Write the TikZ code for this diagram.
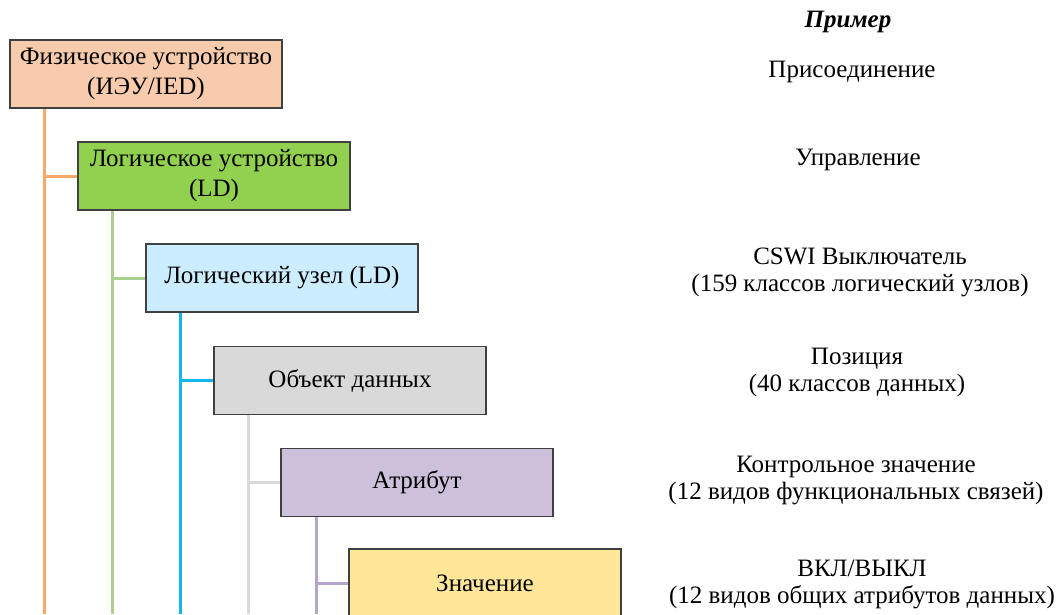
\documentclass[tikz,border=0pt]{standalone}
\usepackage{fontspec}
\setmainfont{Liberation Serif}
\usepackage{tikz}
\usetikzlibrary{positioning,calc}

\definecolor{iedfill}{HTML}{F8CBAD}
\definecolor{ldfill}{HTML}{92D050}
\definecolor{lnfill}{HTML}{CCECFF}
\definecolor{dofill}{HTML}{D9D9D9}
\definecolor{dafill}{HTML}{CCC0DA}
\definecolor{valfill}{HTML}{FFE699}
\definecolor{boxline}{HTML}{404040}
\definecolor{iedline}{HTML}{F9A86A}
\definecolor{ldline}{HTML}{A9D18E}
\definecolor{lnline}{HTML}{12B5F2}
\definecolor{doline}{HTML}{D9D9D9}
\definecolor{daline}{HTML}{B4A5CC}

\begin{document}
\begin{tikzpicture}[
    x=1pt,y=-1pt,
    font=\fontsize{25}{30}\selectfont,
    level/.style={
      draw=boxline,
      line width=1.8pt,
      minimum width=272pt,
      minimum height=68pt,
      inner sep=2pt,
      align=center
    },
    example/.style={
      align=center,
      font=\fontsize{25}{27}\selectfont
    },
    branch/.style={line width=3pt}
  ]
  \useasboundingbox (0,0) rectangle (1062,614);

  % ========== Tree lines ==========
  \coordinate (iedend) at (44,614);
  \coordinate (ldend) at (112,614);
  \coordinate (lnend) at (180,614);
  \coordinate (doend) at (248,614);
  \coordinate (daend) at (316,614);

  % ========== Hierarchy boxes ==========
  \node[level,fill=iedfill] (ied) at (146,74)
    {Физическое устройство\\(ИЭУ/IED)};
  \node[level,fill=ldfill] (ld) at (214,176)
    {Логическое устройство\\(LD)};
  \node[level,fill=lnfill] (ln) at (282,278)
    {Логический узел (LD)};
  \node[level,fill=dofill] (do) at (350,380.5)
    {Объект данных};
  \node[level,fill=dafill] (da) at (417,482.5)
    {Атрибут};
  \node[level,fill=valfill] (val) at (485,583)
    {Значение};

  \draw[branch,iedline] (ied.south -| iedend) -- (iedend);
  \draw[branch,iedline] (ld.west -| iedend) -- (ld.west);
  \draw[branch,ldline] (ld.south -| ldend) -- (ldend);
  \draw[branch,ldline] (ln.west -| ldend) -- (ln.west);
  \draw[branch,lnline] (ln.south -| lnend) -- (lnend);
  \draw[branch,lnline] (do.west -| lnend) -- (do.west);
  \draw[branch,doline] (do.south -| doend) -- (doend);
  \draw[branch,doline] (da.west -| doend) -- (da.west);
  \draw[branch,daline] (da.south -| daend) -- (daend);
  \draw[branch,daline] (val.west -| daend) -- (val.west);

  % ========== Examples ==========
  \node[font=\fontsize{25}{29}\selectfont\bfseries\itshape] (title) at (848,22) {Пример};
  \node[example] (exied) at (852,72) {Присоединение};
  \node[example] (exld) at (858,160) {Управление};
  \node[example] (exln) at (860,272)
    {CSWI Выключатель\\(159 классов логический узлов)};
  \node[example] (exdo) at (857,372)
    {Позиция\\(40 классов данных)};
  \node[example] (exda) at (856,481)
    {Контрольное значение\\(12 видов функциональных связей)};
  \node[example] (exval) at (862,584)
    {ВКЛ/ВЫКЛ\\(12 видов общих атрибутов данных)};
\end{tikzpicture}
\end{document}
